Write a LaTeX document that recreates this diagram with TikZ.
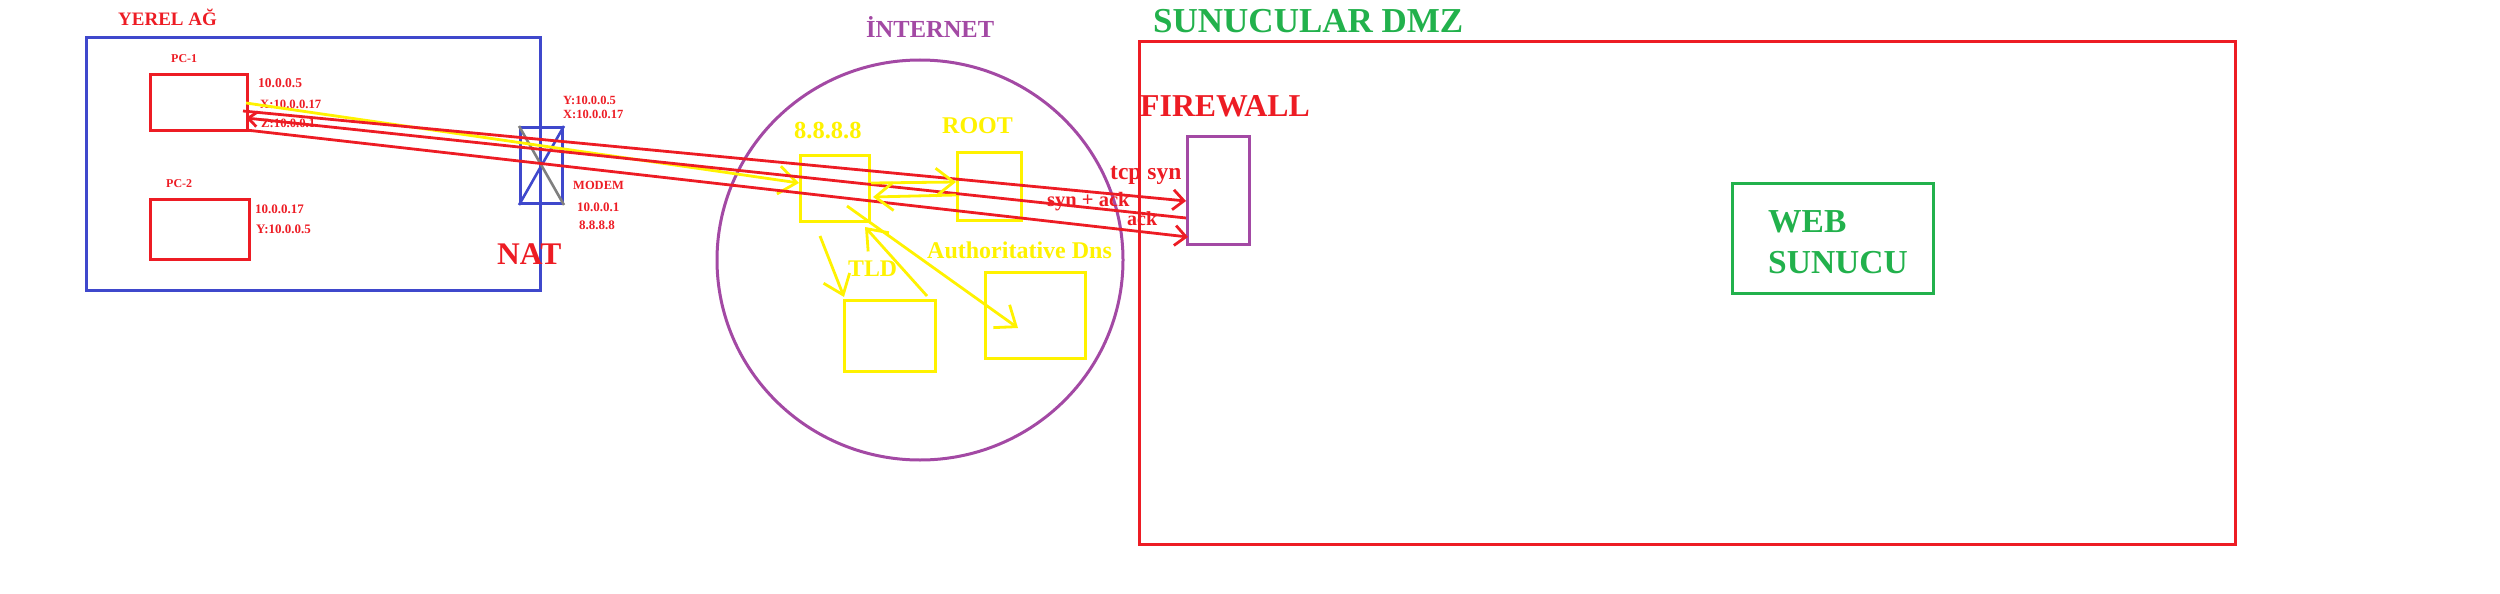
\documentclass[tikz,border=0pt]{standalone}
\usepackage{fontspec}
\setmainfont{Liberation Serif}
\usetikzlibrary{arrows.meta,calc,shapes.geometric}
\definecolor{pred}{RGB}{237,28,36}
\definecolor{pblue}{RGB}{63,72,204}
\definecolor{pyellow}{RGB}{255,242,0}
\definecolor{ppurple}{RGB}{163,73,164}
\definecolor{pgreen}{RGB}{34,177,76}
\definecolor{pgray}{RGB}{127,127,127}
\newcommand\fsz[1]{\fontsize{#1}{#1}\selectfont\bfseries}
\begin{document}
\begin{tikzpicture}[x=1pt,y=-1pt,
  box/.style={draw, line width=3pt, inner sep=0pt, anchor=north west},
  lbl/.style={inner sep=0pt, anchor=base west},
  redline/.style={draw=pred, line width=2.8pt},
  yelline/.style={draw=pyellow, line width=2.8pt},
  rtip/.style={-{Straight Barb[length=11pt,width=20pt]}},
  ltip/.style={{Straight Barb[length=9pt,width=15pt]}-},
  ytip/.style={-{Straight Barb[length=18pt,width=28pt]}}
]
\useasboundingbox (0,0) rectangle (2500,594);

% ---- YEREL AG ----
\node[box, draw=pblue, minimum width=454pt, minimum height=253pt] (lan) at (85,36) {};
\node[lbl, text=pred, font=\fsz{19}] (lanlbl) at (118,26) {YEREL AĞ};
\node[box, draw=pred, minimum width=97pt, minimum height=56pt] (pc1) at (149,73) {};
\node[box, draw=pred, minimum width=99pt, minimum height=60pt] (pc2) at (149,198) {};
\node[lbl, text=pred, font=\fsz{12}] (pc1lbl) at (171,63) {PC-1};
\node[lbl, text=pred, font=\fsz{12}] (pc2lbl) at (166,187) {PC-2};
\node[lbl, text=pred, font=\fsz{13.5}] (pc1ip) at (258,88) {10.0.0.5};
\node[lbl, text=pred, font=\fsz{12.7}] (pc1x) at (260,108) {X:10.0.0.17};
\node[lbl, text=pred, font=\fsz{12.7}] (pc1z) at (261,127) {Z:10.0.0.1};
\node[lbl, text=pred, font=\fsz{13}] (pc2ip) at (255,213) {10.0.0.17};
\node[lbl, text=pred, font=\fsz{13}] (pc2y) at (256,233) {Y:10.0.0.5};

% ---- MODEM / NAT ----
\node[box, draw=pblue, minimum width=42pt, minimum height=76pt] (modem) at (519,126) {};
\draw[pblue, line width=2.6pt] (modem.south west) -- (modem.north east);
\draw[pgray, line width=2.6pt] (modem.north west) -- (modem.south east);
\node[lbl, text=pred, font=\fsz{12.5}] (my) at (563,104) {Y:10.0.0.5};
\node[lbl, text=pred, font=\fsz{12.5}] (mx) at (563,118) {X:10.0.0.17};
\node[lbl, text=pred, font=\fsz{12.5}] (mlbl) at (573,189) {MODEM};
\node[lbl, text=pred, font=\fsz{13}] (mip1) at (577,211) {10.0.0.1};
\node[lbl, text=pred, font=\fsz{13}] (mip2) at (579,229) {8.8.8.8};
\node[lbl, text=pred, font=\fsz{31.5}] (nat) at (497,264) {NAT};

% ---- INTERNET ----
\node[draw=ppurple, line width=3pt, ellipse, inner sep=0pt, minimum width=406pt, minimum height=400pt] (inet) at (920,260) {};
\node[lbl, text=ppurple, font=\fsz{24.5}] (inetlbl) at (866,38) {İNTERNET};
\node[box, draw=pyellow, minimum width=69pt, minimum height=66pt] (dns) at (799,154) {};
\node[box, draw=pyellow, minimum width=64pt, minimum height=68pt] (root) at (956,151) {};
\node[box, draw=pyellow, minimum width=91pt, minimum height=71pt] (tld) at (843,299) {};
\node[box, draw=pyellow, minimum width=100pt, minimum height=86pt] (auth) at (984,271) {};
\node[lbl, text=pyellow, font=\fsz{24.5}] (dnslbl) at (794,138) {8.8.8.8};
\node[lbl, text=pyellow, font=\fsz{24}] (rootlbl) at (942,133) {ROOT};
\node[lbl, text=pyellow, font=\fsz{23.8}] (tldlbl) at (848,276) {TLD};
\node[lbl, text=pyellow, font=\fsz{24}] (authlbl) at (927,258) {Authoritative Dns};

% ---- DMZ ----
\node[box, draw=pred, minimum width=1096pt, minimum height=503pt] (dmz) at (1138,40) {};
\node[lbl, text=pgreen, font=\fsz{35}] (dmzlbl) at (1153,33) {SUNUCULAR DMZ};
\node[lbl, text=pred, font=\fsz{31.8}] (fwlbl) at (1140,116) {FIREWALL};
\node[box, draw=ppurple, minimum width=62pt, minimum height=108pt] (fw) at (1186,135) {};
\node[box, draw=pgreen, minimum width=201pt, minimum height=110pt] (web) at (1731,182) {};
\node[lbl, text=pgreen, font=\fsz{33.5}] (weblbl1) at (1768,232) {WEB};
\node[lbl, text=pgreen, font=\fsz{33.5}] (weblbl2) at (1768,273) {SUNUCU};
\node[lbl, text=pred, font=\fsz{23.5}] (tcpsyn) at (1110,179) {tcp syn};
\node[lbl, text=pred, font=\fsz{20.5}] (synack) at (1047,206) {syn + ack};
\node[lbl, text=pred, font=\fsz{20}] (acklbl) at (1127,225) {ack};

% ---- connectors ----
\draw[yelline, ytip] ($(pc1.north east)+(-3,30)$) -- ($(dns.north west)+(0,29)$);
\draw[redline, rtip] ($(pc1.north east)+(-6,38)$) -- ($(fw.north west)+(0,66)$);
\draw[redline, ltip] ($(pc1.north east)+(-3,45)$) -- ($(fw.north west)+(0,83)$);
\draw[redline, rtip] ($(pc1.north east)+(-3,57)$) -- ($(fw.north west)+(2,102)$);

\draw[yelline, ytip] ($(dns.north east)+(0,29)$) -- ($(root.north west)+(0,31)$);
\draw[yelline, ytip] ($(root.north west)+(0,44)$) -- ($(dns.north east)+(2,43)$);
\draw[yelline, ytip] ($(dns.south west)+(21,13)$) -- ($(tld.north west)+(1,-2)$);
\draw[yelline, ytip] ($(tld.north east)+(-10,-3)$) -- ($(dns.south east)+(-6,4)$);
\draw[yelline, ytip] ($(dns.south west)+(48,-17)$) -- ($(auth.north west)+(34,57)$);
\end{tikzpicture}
\end{document}
